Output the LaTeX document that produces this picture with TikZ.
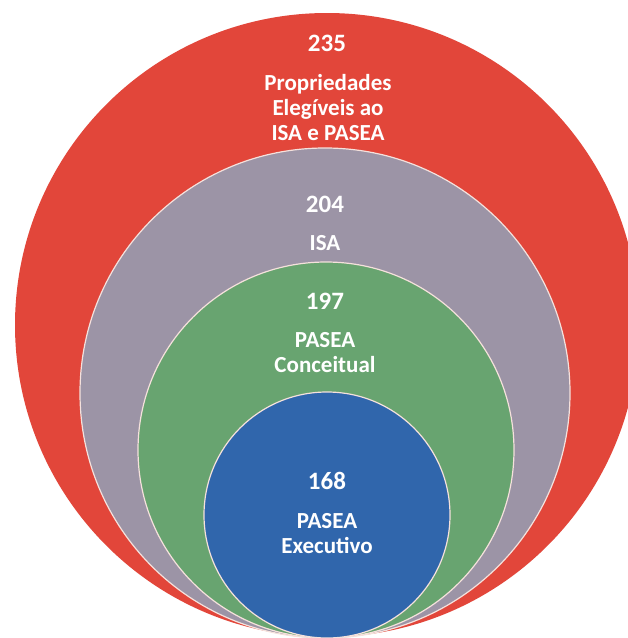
\documentclass[tikz,border=0pt]{standalone}
\usepackage{fontspec}
\setmainfont{Carlito}
\definecolor{cred}{RGB}{226,70,58}
\definecolor{cgray}{RGB}{156,148,166}
\definecolor{cgreen}{RGB}{104,164,112}
\definecolor{cblue}{RGB}{48,102,172}
\definecolor{cedge}{RGB}{245,225,220}
\begin{document}
\begin{tikzpicture}[x=1pt,y=-1pt,
  ring/.style={draw=cedge,line width=1.2pt},
  num/.style={text=white,font=\bfseries\fontsize{25}{27}\selectfont,inner sep=0pt},
  lbl/.style={text=white,font=\bfseries\fontsize{23}{25}\selectfont,align=center,inner sep=0pt}]
\useasboundingbox (0,0) rectangle (628,638);
\fill[white] (0,0) rectangle (628,638);
\begin{scope}
\clip (0,0) rectangle (628,638);
\fill[cred] (327,325) circle[radius=312];
\end{scope}
\fill[cgray,ring] (325,393) circle[radius=245];
\fill[cgreen,ring] (326,450) circle[radius=188];
\fill[cblue,ring] (327,515) circle[radius=123];
\node[num] (n235) at (327,43) {235};
\node[lbl] (t235) at (328,108) {Propriedades\\Elegíveis ao\\ISA e PASEA};
\node[num] (n204) at (325,204) {204};
\node[lbl] (t204) at (325,243) {ISA};
\node[num] (n197) at (325,301) {197};
\node[lbl] (t197) at (325,353) {PASEA\\Conceitual};
\node[num] (n168) at (327,481) {168};
\node[lbl] (t168) at (327,534) {PASEA\\Executivo};
\end{tikzpicture}
\end{document}
